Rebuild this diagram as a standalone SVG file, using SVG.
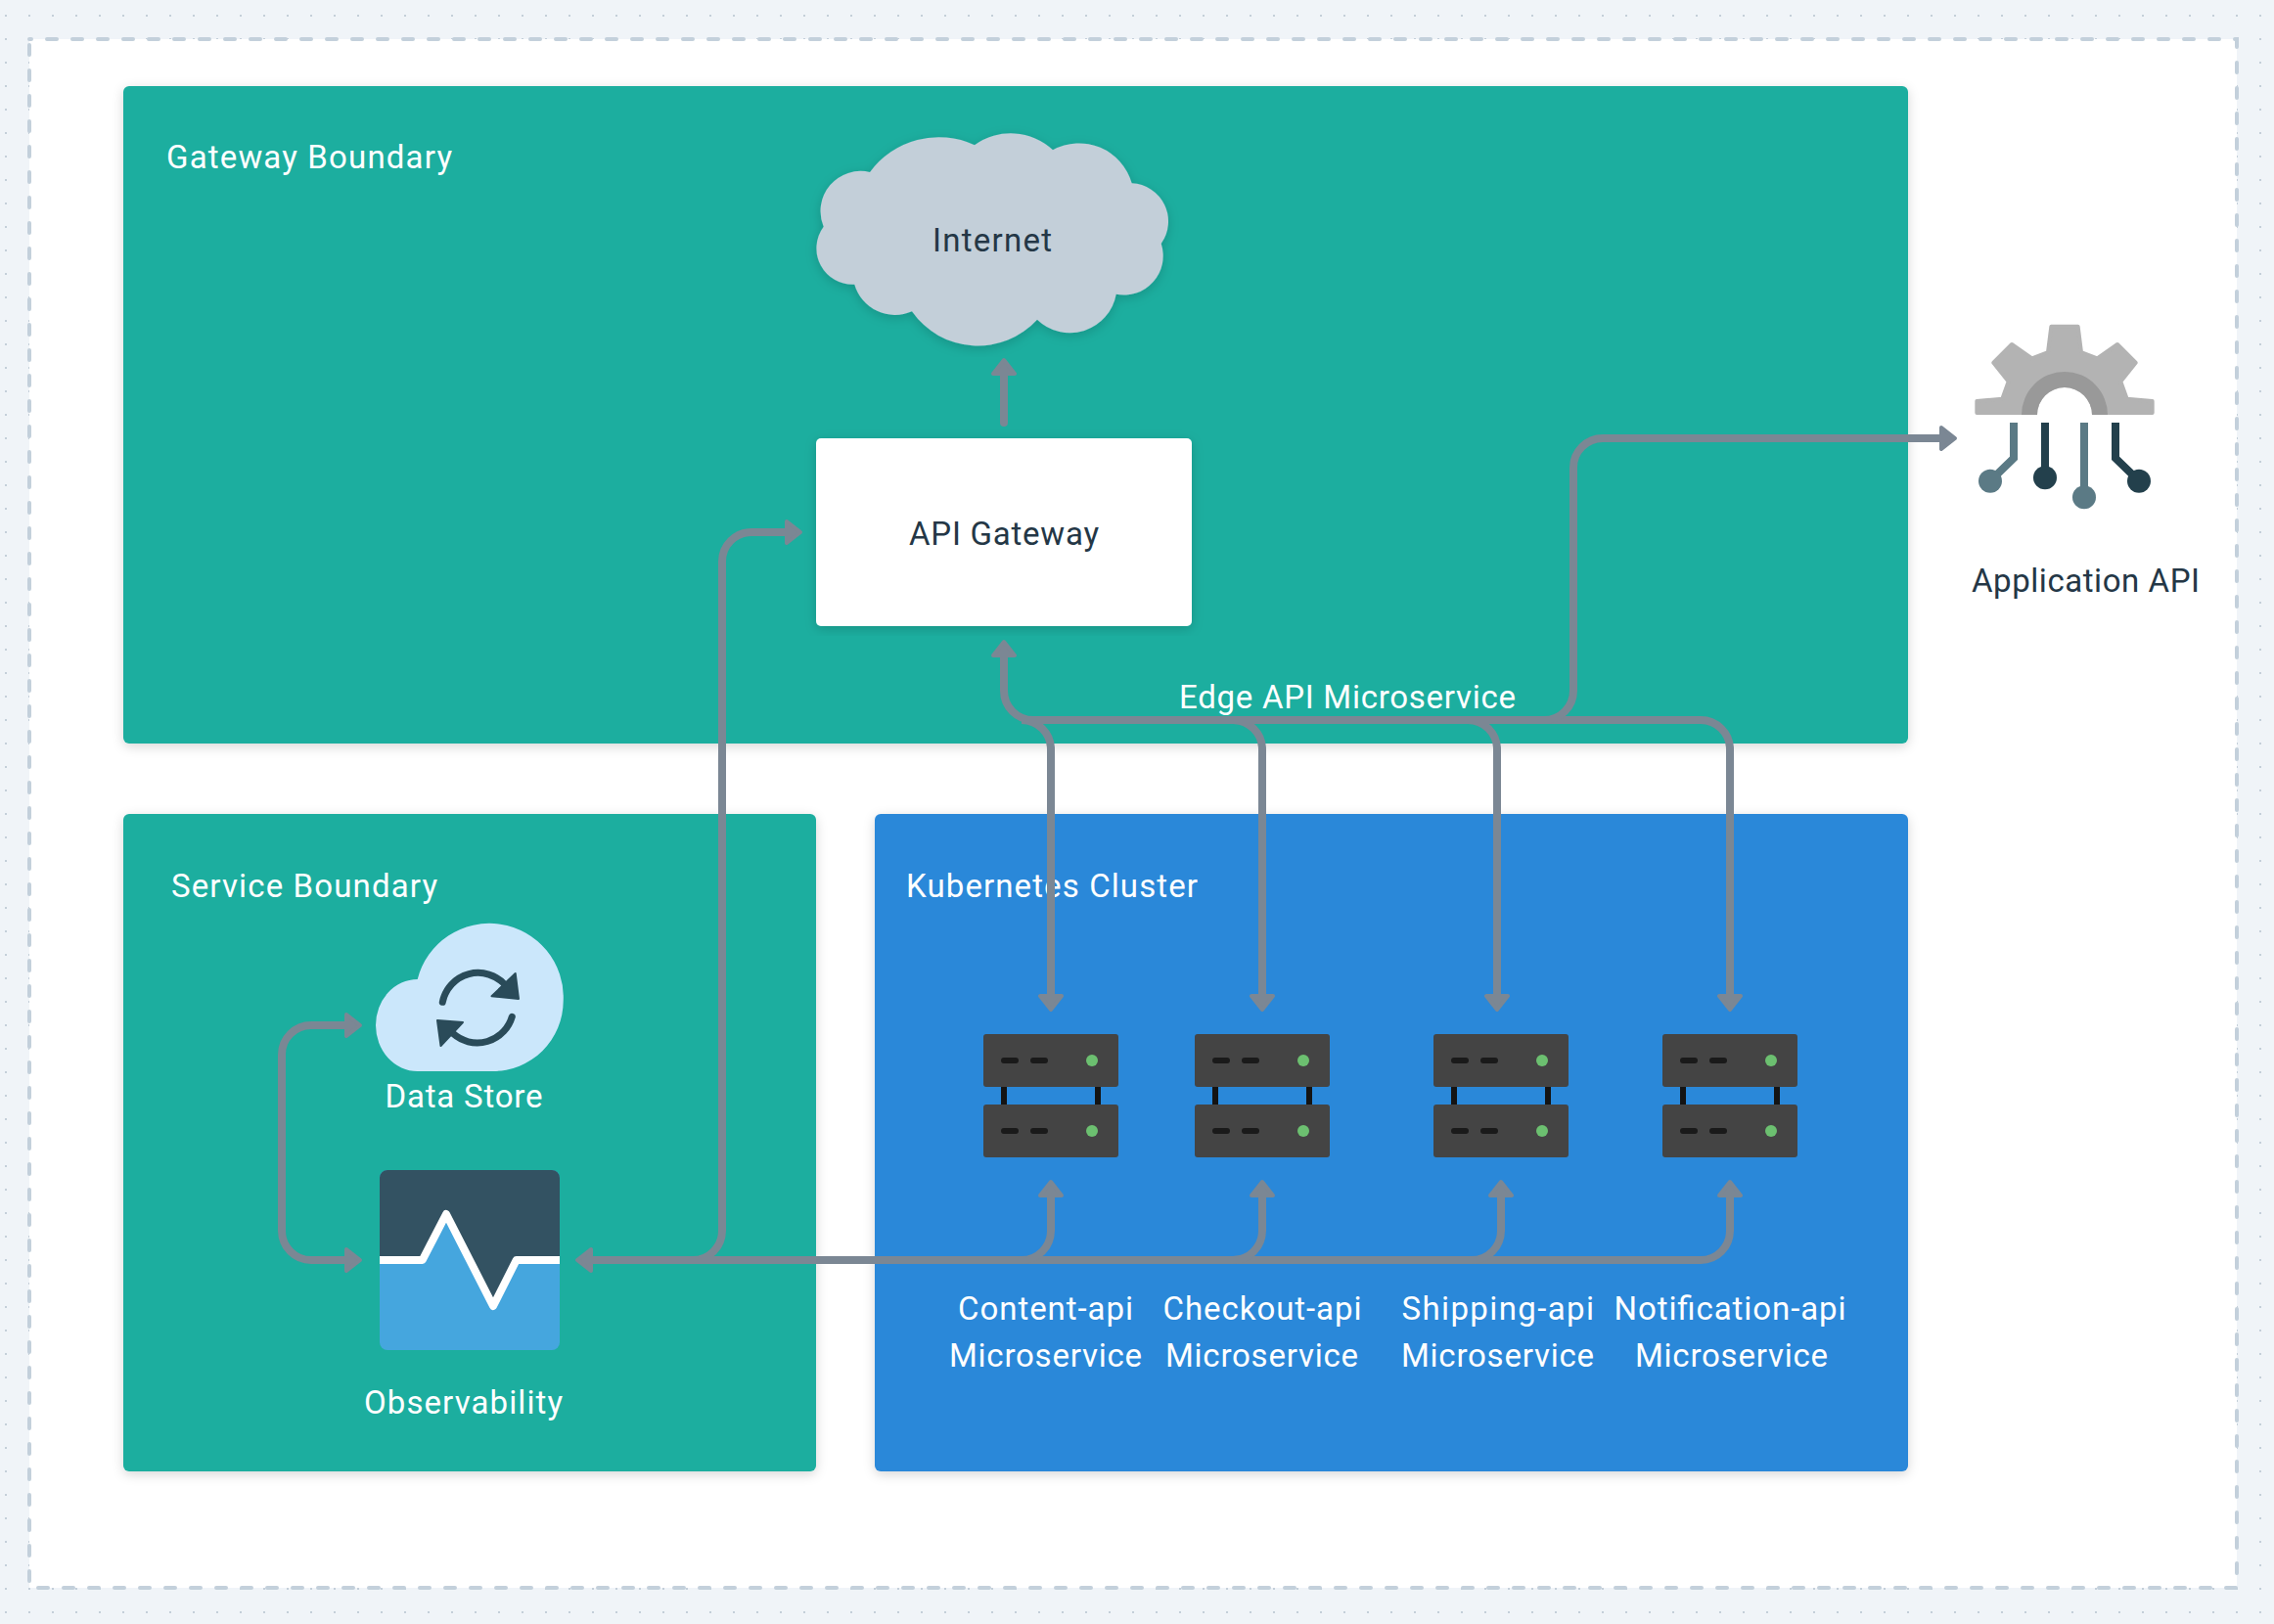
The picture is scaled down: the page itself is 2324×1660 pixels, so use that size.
<svg xmlns="http://www.w3.org/2000/svg" width="2324" height="1660" viewBox="0 0 2324 1660">
<style>
text{font-family:"Roboto","Liberation Sans",sans-serif;font-size:33px;font-weight:450}
.w{fill:#fff}.d{fill:#243746}
.lane{filter:url(#sh)}
.c{fill:none;stroke:#7b8794;stroke-width:8}
.tip{fill:#7b8794;stroke:#7b8794;stroke-width:4;stroke-linejoin:round}
</style>
<defs>
<pattern id="dots" width="24" height="24" patternUnits="userSpaceOnUse" x="5" y="15"><rect width="2" height="2" fill="#c4cfd9"/></pattern>
<filter id="sh" x="-5%" y="-5%" width="110%" height="110%"><feDropShadow dx="0" dy="3" stdDeviation="6" flood-color="#000" flood-opacity=".16"/></filter>
<marker id="a" markerUnits="userSpaceOnUse" markerWidth="30" markerHeight="32" viewBox="-6 -16 30 32" refX="0" refY="0" orient="auto-start-reverse"><path class="tip" d="M2,-11 L16,0 L2,11 Z"/></marker>
<g id="srv">
<rect x="18" y="54" width="6" height="18" fill="#141414"/><rect x="114" y="54" width="6" height="18" fill="#141414"/>
<rect width="138" height="54" rx="3" fill="#444"/><rect y="72" width="138" height="54" rx="3" fill="#444"/>
<rect x="18" y="24" width="18" height="6" rx="3" fill="#1a1a1a"/><rect x="48" y="24" width="18" height="6" rx="3" fill="#1a1a1a"/><circle cx="111" cy="27" r="6" fill="#6cc070"/>
<rect x="18" y="96" width="18" height="6" rx="3" fill="#1a1a1a"/><rect x="48" y="96" width="18" height="6" rx="3" fill="#1a1a1a"/><circle cx="111" cy="99" r="6" fill="#6cc070"/>
</g>
</defs>
<rect width="2324" height="1660" fill="#f0f4f8"/>
<rect width="2324" height="1660" fill="url(#dots)"/>
<rect x="30" y="40" width="2256" height="1583" fill="#fff" stroke="#c3d0db" stroke-width="4" stroke-dasharray="10 16" stroke-dashoffset="8" stroke-linecap="round"/>

<g id="gateway-boundary"><rect class="lane" x="126" y="88" width="1824" height="672" rx="6" fill="#1aae9f"/><text class="w" x="170" y="172" textLength="292">Gateway Boundary</text></g>
<g id="service-boundary"><rect class="lane" x="126" y="832" width="708" height="672" rx="6" fill="#1aae9f"/><text class="w" x="175" y="917" textLength="272">Service Boundary</text></g>
<g id="kubernetes-cluster"><rect class="lane" x="894" y="832" width="1056" height="672" rx="6" fill="#2c88d9"/><text class="w" x="926" y="917" textLength="298">Kubernetes Cluster</text></g>

<g id="internet"><path filter="url(#sh)" fill="#c3cfd9" d="M889,176 A87,87 0 0 1 996,148.3 A63,63 0 0 1 1076,153.3 A56,56 0 0 1 1156.7,187.3 A39,39 0 0 1 1186.7,249 A40,40 0 0 1 1140.7,300.7 A48,48 0 0 1 1060,326.7 A82,82 0 0 1 932,318.3 A43,43 0 0 1 873.3,290.7 A37,37 0 0 1 841.7,231.7 A41,41 0 0 1 889,176 Z"/><text class="d" x="953" y="256.7" textLength="122">Internet</text></g>
<g id="api-gateway"><rect class="lane" x="834" y="448" width="384" height="192" rx="5" fill="#fff"/><text class="d" x="929" y="557" textLength="194">API Gateway</text></g>

<g id="application-api">
<g transform="translate(1960 300) scale(.33333)">
<path fill="#b3b3b3" stroke="#b3b3b3" stroke-width="12" stroke-linejoin="round" d="M181,366 V330 L259,323 L278,270 L232,212 L288,156 L350,199 L399,180 L409,101 H491 L501,180 L550,199 L612,156 L668,212 L622,270 L641,323 L719,330 V366 Z"/>
<path fill="#fff" d="M366,378 V372 A84,84 0 0 1 534,372 V378 Z"/>
<path fill="#999" d="M318,372 A132,132 0 0 1 582,372 H534 A84,84 0 0 0 366,372 Z"/>
<path fill="none" stroke="#5b7a85" stroke-width="24" d="M294,396 V505 L222,575 M510,396 V625"/><path fill="none" stroke="#23404c" stroke-width="24" d="M390,396 V565 M606,396 V505 L678,575"/>
<circle cx="222" cy="575" r="36" fill="#5b7a85"/><circle cx="510" cy="625" r="36" fill="#5b7a85"/><circle cx="390" cy="565" r="36" fill="#23404c"/><circle cx="678" cy="575" r="36" fill="#23404c"/>
</g>
<text class="d" x="2015" y="605" textLength="233">Application API</text></g>

<g id="data-store">
<path fill="#cbe7fb" d="M426.7,1095 A42.7,47 0 0 1 426.7,1001 A75.7,75.7 0 0 1 575.7,1023.3 A72,72 0 0 1 503.3,1095 Z"/>
<path fill="none" stroke="#2a4b59" stroke-width="7" stroke-linecap="round" d="M452.3,1024.3 A37,37 0 0 1 516.7,1007.3 M523.3,1039.3 A37,37 0 0 1 463.3,1056.7"/>
<path fill="#2a4b59" stroke="#2a4b59" stroke-width="2" stroke-linejoin="round" d="M526.7,995 L530,1021 L502.5,1018.3 Z M447,1043 L473,1045 L450.5,1069 Z"/>
<text class="w" x="393.5" y="1132.3" textLength="161">Data Store</text></g>

<g id="observability">
<rect x="388" y="1196" width="184" height="184" rx="8" fill="#45a6de"/>
<path fill="#335262" d="M388,1288 V1204 A8,8 0 0 1 396,1196 H564 A8,8 0 0 1 572,1204 V1288 H527.7 L504,1335 L456,1241 L431.7,1288 Z"/>
<path fill="none" stroke="#fff" stroke-width="8" stroke-linejoin="round" d="M388,1288 H431.7 L456,1241 L504,1335 L527.7,1288 H572"/>
<text class="w" x="372" y="1445" textLength="203">Observability</text></g>

<g id="content-api"><use href="#srv" x="1005" y="1057"/><text class="w" x="979" y="1349" textLength="179">Content-api</text><text class="w" x="970" y="1397" textLength="197">Microservice</text></g>
<g id="checkout-api"><use href="#srv" x="1221" y="1057"/><text class="w" x="1188.5" y="1349" textLength="203">Checkout-api</text><text class="w" x="1191" y="1397" textLength="197">Microservice</text></g>
<g id="shipping-api"><use href="#srv" x="1465" y="1057"/><text class="w" x="1432.5" y="1349" textLength="196.5">Shipping-api</text><text class="w" x="1432" y="1397" textLength="197">Microservice</text></g>
<g id="notification-api"><use href="#srv" x="1699" y="1057"/><text class="w" x="1649.5" y="1349" textLength="237">Notification-api</text><text class="w" x="1671" y="1397" textLength="197">Microservice</text></g>

<g id="edge-label"><text class="w" x="1205" y="724" textLength="344">Edge API Microservice</text></g>

<g id="connectors">
<path class="c" stroke-linecap="round" marker-end="url(#a)" d="M1026,432 V384"/>
<path class="c" marker-end="url(#a)" d="M738,1258 V574 A30,30 0 0 1 768,544 H802"/>
<path class="c" marker-end="url(#a)" d="M288,1200 V1078 A30,30 0 0 1 318,1048 H352"/>
<path class="c" marker-end="url(#a)" d="M288,1200 V1258 A30,30 0 0 0 318,1288 H352"/>
<path class="c" d="M738,1258 A30,30 0 0 1 708,1288"/>
<path class="c" marker-start="url(#a)" d="M606,1288 H1738"/>
<path class="c" marker-end="url(#a)" d="M1044,1288 A30,30 0 0 0 1074,1258 V1224"/>
<path class="c" marker-end="url(#a)" d="M1260,1288 A30,30 0 0 0 1290,1258 V1224"/>
<path class="c" marker-end="url(#a)" d="M1504,1288 A30,30 0 0 0 1534,1258 V1224"/>
<path class="c" marker-end="url(#a)" d="M1738,1288 A30,30 0 0 0 1768,1258 V1224"/>
<path class="c" marker-end="url(#a)" d="M1056,736 A30,30 0 0 1 1026,706 V672"/>
<path class="c" marker-end="url(#a)" d="M1044,736 A30,30 0 0 1 1074,766 V1016"/>
<path class="c" marker-end="url(#a)" d="M1260,736 A30,30 0 0 1 1290,766 V1016"/>
<path class="c" marker-end="url(#a)" d="M1500,736 A30,30 0 0 1 1530,766 V1016"/>
<path class="c" marker-end="url(#a)" d="M1044,736 H1738 A30,30 0 0 1 1768,766 V1016"/>
<path class="c" marker-end="url(#a)" d="M1578,736 A30,30 0 0 0 1608,706 V478 A30,30 0 0 1 1638,448 H1982"/>
</g>
</svg>
